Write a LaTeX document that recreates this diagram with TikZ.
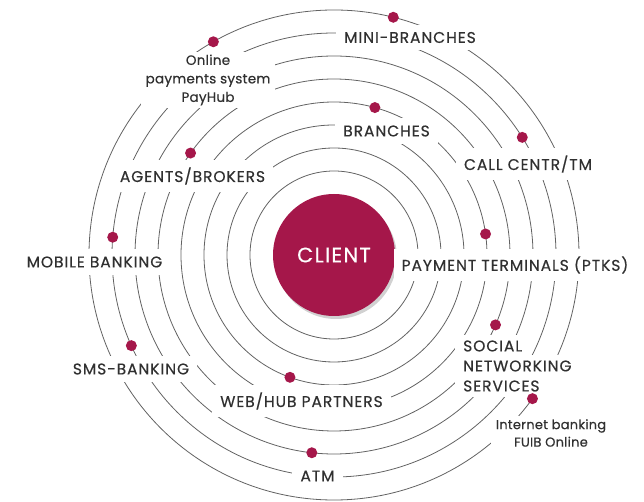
\documentclass[tikz,border=0pt]{standalone}
\usepackage{fontspec}
\setmainfont{Poppins}[LetterSpace=6, FakeBold=0.4]
\newfontfamily\notefont{Poppins}[LetterSpace=2, FakeBold=0.4]
\usetikzlibrary{shadows}
\definecolor{clientred}{HTML}{A5174A}
\definecolor{ringgray}{HTML}{626262}
\definecolor{textgray}{HTML}{303030}

\begin{document}
\begin{tikzpicture}[x=1pt, y=1pt,
  ring/.style={draw=ringgray, line width=0.8pt},
  chan/.style={fill=white, text=textgray, inner xsep=8pt, inner ysep=7pt, font=\fontsize{15.5}{20}\selectfont},
  note/.style={chan, align=center, inner xsep=5pt, inner ysep=3pt, font=\notefont\fontsize{13.5}{18.5}\selectfont},
  line/.style={chan, anchor=west, inner ysep=5pt},
  dot/.style={circle, fill=clientred, minimum size=11pt, inner sep=0pt},
  client/.style={circle, fill=clientred, minimum size=122pt, text=white, font=\fontsize{21}{24}\selectfont,
    drop shadow={shadow xshift=2pt, shadow yshift=-3pt, opacity=0.3, fill=black!60}}
]
  \useasboundingbox (-334,-247) rectangle (310,255);

  % Rings
  \foreach \r in {84,107,...,245}
    \draw[ring] (0,0) circle [radius=\r pt];

  % Centre
  \node[client] (client) at (0,0) {CLIENT};

  % Channels
  \node[chan] (mini)     at (76, 217.5)  {MINI-BRANCHES};
  \node[note] (payhub)   at (-126, 175)  {Online\\payments system\\PayHub};
  \node[chan] (branches) at (52.5, 124)  {BRANCHES};
  \node[chan] (callc)    at (194, 91)    {CALL CENTR/TM};
  \node[chan] (agents)   at (-141.5, 79) {AGENTS/BROKERS};
  \node[chan] (mobile)   at (-239.5, -7) {MOBILE BANKING};
  \node[chan] (ptks)     at (181, -10)   {PAYMENT TERMINALS (PTKS)};
  \node[chan] (sms)      at (-203, -114) {SMS-BANKING};
  \node[line] (social)   at (121, -91)   {SOCIAL};
  \node[line] (socialb)  at (121, -111)  {NETWORKING};
  \node[line] (socialc)  at (121, -131)  {SERVICES};
  \node[chan] (webhub)   at (-32.5, -146) {WEB/HUB PARTNERS};
  \node[note, font=\notefont\fontsize{13}{17.5}\selectfont] (inet) at (217, -178) {Internet banking\\FUIB Online};
  \node[chan] (atm)      at (-16.5, -221) {ATM};

  % Dots
  \node[dot] (dmini)     at (76:245pt) {};
  \node[dot] (dpayhub)   at (119.5:245pt) {};
  \node[dot] (dbranches) at (74.5:153pt) {};
  \node[dot] (dcallc)    at (32:222pt) {};
  \node[dot] (dagents)   at (144.6:176pt) {};
  \node[dot] (dmobile)   at (175.4:222pt) {};
  \node[dot] (dptks)     at (7.9:153pt) {};
  \node[dot] (dsms)      at (204.1:222pt) {};
  \node[dot] (dsocial)   at (-23.4:176pt) {};
  \node[dot] (dwebhub)   at (250.2:130pt) {};
  \node[dot] (dinet)     at (-35.9:245pt) {};
  \node[dot] (datm)      at (263.6:199pt) {};
\end{tikzpicture}
\end{document}
